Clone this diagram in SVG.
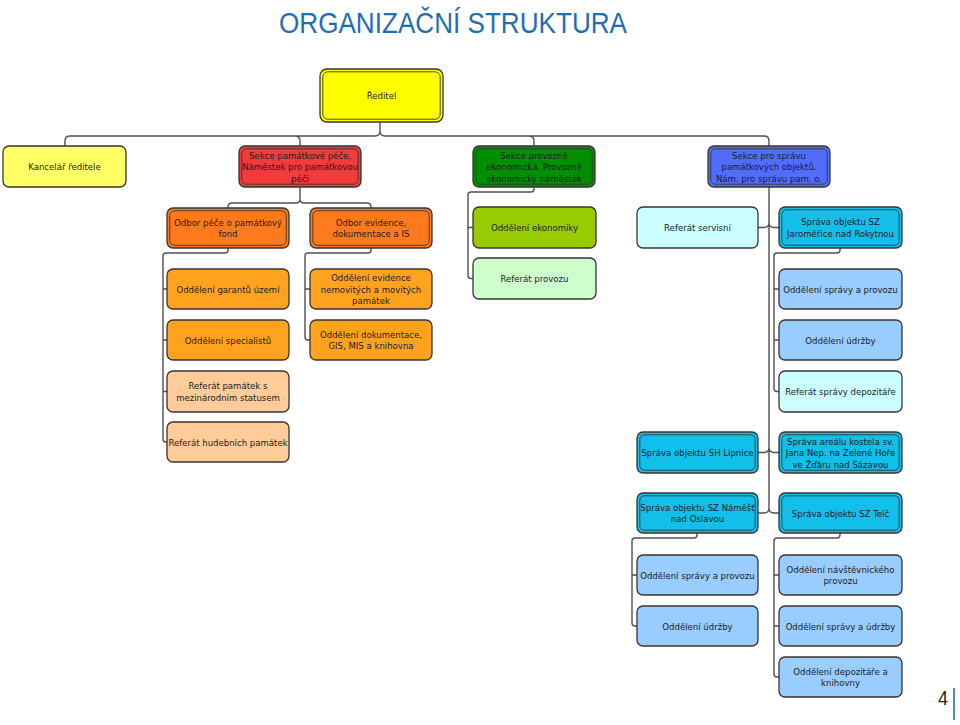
<svg xmlns="http://www.w3.org/2000/svg" width="960" height="725" viewBox="0 0 960 725">
<style>
  .t { font-family: "DejaVu Sans Condensed", "Liberation Sans", sans-serif; font-stretch: condensed; font-size: 9.5px; fill: #1c1c24; text-anchor: middle; }
  .b { stroke: #3a3330; stroke-width: 1.3; }
  .in { fill: none; stroke: #3a3330; stroke-width: 0.9; }
  .c { fill: none; stroke: #505050; stroke-width: 1.4; stroke-linecap: round; stroke-linejoin: round; }
  .yel { fill: #ffff00; } .lyel { fill: #ffff66; } .red { fill: #f23b3b; }
  .grn { fill: #008f00; } .blu { fill: #4f6eff; } .org { fill: #ff7a1c; }
  .amb { fill: #ffa31f; } .pch { fill: #ffcc99; } .lim { fill: #99cc00; }
  .lgr { fill: #ccffcc; } .pcy { fill: #ccffff; } .cya { fill: #12bfea; }
  .lbl { fill: #99ccff; }
</style>
<rect width="960" height="725" fill="#ffffff"/>
<text x="279" y="33" font-family="Liberation Sans, Arial, sans-serif" font-size="29" fill="#1f6eb4" textLength="348" lengthAdjust="spacingAndGlyphs">ORGANIZAČNÍ STRUKTURA</text>

<g id="connectors">
  <path class="c" d="M65,146 V141 Q65,136 70,136 H375 Q380,136 380,131 V122 M380,131 Q380,136 385,136 H764 Q769,136 769,141 V146 M295,136 Q300,136 300,141 V146 M529,136 Q534,136 534,141 V146"/>
  <path class="c" d="M228,208 V207 Q228,203 232,203 H296 Q300,203 300,199 V187 M300,199 Q300,203 304,203 H367 Q371,203 371,207 V208"/>
  <path class="c" d="M228,248 V250 Q228,253 225,253 H166 Q163,253 163,256 V439 Q163,442 166,442 H167 M163,289 H167 M163,340 H167 M163,391.5 H167"/>
  <path class="c" d="M371,248 V250 Q371,253 368,253 H308 Q305,253 305,256 V337 Q305,340 308,340 H310 M305,289 H310"/>
  <path class="c" d="M534,187 V189 Q534,192 531,192 H471 Q468,192 468,195 V275.5 Q468,278.5 471,278.5 H473 M468,227.5 H473"/>
  <path class="c" d="M769,187 V508 Q769,513 764,513 H758 M769,508 Q769,513 774,513 H779 M758,227.5 H764 Q769,227.5 769,222.5 M769,222.5 Q769,227.5 774,227.5 H779 M758,452.5 H764 Q769,452.5 769,447.5 M769,447.5 Q769,452.5 774,452.5 H779"/>
  <path class="c" d="M840,248 V250 Q840,253 837,253 H777 Q774,253 774,256 V388.5 Q774,391.5 777,391.5 H779 M774,289 H779 M774,340 H779"/>
  <path class="c" d="M697,533 V535 Q697,538 694,538 H635 Q632,538 632,541 V623 Q632,626 635,626 H637 M632,575 H637"/>
  <path class="c" d="M840,533 V535 Q840,538 837,538 H777 Q774,538 774,541 V674 Q774,677 777,677 H779 M774,575 H779 M774,626 H779"/>
</g>

<g id="reditel">
  <rect class="b yel" x="320" y="69" width="123" height="53" rx="7"/>
  <rect class="in" x="322.8" y="71.8" width="117.4" height="47.4" rx="5"/>
  <text class="t" x="381.5" y="99">Ředitel</text>
</g>
<g id="kancelar">
  <rect class="b lyel" x="3" y="146" width="123" height="41" rx="6"/>
  <text class="t" x="64.5" y="170">Kancelář ředitele</text>
</g>
<g id="sekce-pamatkove-pece">
  <rect class="b red" x="239" y="146" width="122" height="41" rx="6"/>
  <rect class="in" x="241.8" y="148.8" width="116.4" height="35.4" rx="4.5"/>
  <text class="t" x="300" y="158.5">Sekce památkové péče.</text>
  <text class="t" x="300" y="170">Náměstek pro památkovou</text>
  <text class="t" x="300" y="181.5">péči</text>
</g>
<g id="sekce-provozne-ekonomicka">
  <rect class="b grn" x="473" y="146" width="122" height="41" rx="6"/>
  <rect class="in" x="475.8" y="148.8" width="116.4" height="35.4" rx="4.5"/>
  <text class="t" x="534" y="158.5">Sekce provozně</text>
  <text class="t" x="534" y="170">ekonomická. Provozně</text>
  <text class="t" x="534" y="181.5">ekonomický náměstek</text>
</g>
<g id="sekce-spravy-objektu">
  <rect class="b blu" x="708" y="146" width="122" height="41" rx="6"/>
  <rect class="in" x="710.8" y="148.8" width="116.4" height="35.4" rx="4.5"/>
  <text class="t" x="769" y="158.5">Sekce pro správu</text>
  <text class="t" x="769" y="170">památkových objektů.</text>
  <text class="t" x="769" y="181.5">Nám. pro správu pam. o.</text>
</g>

<g id="odbor-pece">
  <rect class="b org" x="167" y="208" width="122" height="40" rx="6"/>
  <rect class="in" x="169.8" y="210.8" width="116.4" height="34.4" rx="4.5"/>
  <text class="t" x="228" y="225.5">Odbor péče o památkový</text>
  <text class="t" x="228" y="237">fond</text>
</g>
<g id="odbor-evidence">
  <rect class="b org" x="310" y="208" width="122" height="40" rx="6"/>
  <rect class="in" x="312.8" y="210.8" width="116.4" height="34.4" rx="4.5"/>
  <text class="t" x="371" y="225.5">Odbor evidence,</text>
  <text class="t" x="371" y="237">dokumentace a IS</text>
</g>

<g id="odd-garantu">
  <rect class="b amb" x="167" y="269" width="122" height="40" rx="6"/>
  <text class="t" x="228" y="292.5">Oddělení garantů území</text>
</g>
<g id="odd-specialistu">
  <rect class="b amb" x="167" y="320" width="122" height="40" rx="6"/>
  <text class="t" x="228" y="343.5">Oddělení specialistů</text>
</g>
<g id="ref-mezinarodni">
  <rect class="b pch" x="167" y="371" width="122" height="41" rx="6"/>
  <text class="t" x="228" y="389">Referát památek s</text>
  <text class="t" x="228" y="400.5">mezinárodním statusem</text>
</g>
<g id="ref-hudebnich">
  <rect class="b pch" x="167" y="422" width="122" height="40" rx="6"/>
  <text class="t" x="228" y="445.5">Referát hudebních památek</text>
</g>

<g id="odd-evidence">
  <rect class="b amb" x="310" y="269" width="122" height="40" rx="6"/>
  <text class="t" x="371" y="281">Oddělení evidence</text>
  <text class="t" x="371" y="292.5">nemovitých a movitých</text>
  <text class="t" x="371" y="304">památek</text>
</g>
<g id="odd-dokumentace">
  <rect class="b amb" x="310" y="320" width="122" height="40" rx="6"/>
  <text class="t" x="371" y="337.5">Oddělení dokumentace,</text>
  <text class="t" x="371" y="349">GIS, MIS a knihovna</text>
</g>

<g id="odd-ekonomiky">
  <rect class="b lim" x="473" y="207" width="123" height="41" rx="6"/>
  <text class="t" x="534.5" y="231">Oddělení ekonomiky</text>
</g>
<g id="ref-provozu">
  <rect class="b lgr" x="473" y="258" width="123" height="41" rx="6"/>
  <text class="t" x="534.5" y="282">Referát provozu</text>
</g>

<g id="ref-servisni">
  <rect class="b pcy" x="637" y="207" width="121" height="41" rx="6"/>
  <text class="t" x="697.5" y="231">Referát servisní</text>
</g>
<g id="sz-jaromerice">
  <rect class="b cya" x="779" y="207" width="123" height="41" rx="6"/>
  <rect class="in" x="781.8" y="209.8" width="117.4" height="35.4" rx="4.5"/>
  <text class="t" x="840.5" y="225">Správa objektu SZ</text>
  <text class="t" x="840.5" y="236.5">Jaroměřice nad Rokytnou</text>
</g>
<g id="odd-spravy-provozu-j">
  <rect class="b lbl" x="779" y="269" width="123" height="40" rx="6"/>
  <text class="t" x="840.5" y="292.5">Oddělení správy a provozu</text>
</g>
<g id="odd-udrzby-j">
  <rect class="b lbl" x="779" y="320" width="123" height="40" rx="6"/>
  <text class="t" x="840.5" y="343.5">Oddělení údržby</text>
</g>
<g id="ref-depozitare">
  <rect class="b pcy" x="779" y="371" width="123" height="41" rx="6"/>
  <text class="t" x="840.5" y="395">Referát správy depozitáře</text>
</g>

<g id="sh-lipnice">
  <rect class="b cya" x="637" y="432" width="121" height="41" rx="6"/>
  <rect class="in" x="639.8" y="434.8" width="115.4" height="35.4" rx="4.5"/>
  <text class="t" x="697.5" y="456">Správa objektu SH Lipnice</text>
</g>
<g id="areal-kostela">
  <rect class="b cya" x="779" y="432" width="123" height="41" rx="6"/>
  <rect class="in" x="781.8" y="434.8" width="117.4" height="35.4" rx="4.5"/>
  <text class="t" x="840.5" y="444.5">Správa areálu kostela sv.</text>
  <text class="t" x="840.5" y="456">Jana Nep. na Zelené Hoře</text>
  <text class="t" x="840.5" y="467.5">ve Žďáru nad Sázavou</text>
</g>
<g id="sz-namest">
  <rect class="b cya" x="637" y="493" width="121" height="40" rx="6"/>
  <rect class="in" x="639.8" y="495.8" width="115.4" height="34.4" rx="4.5"/>
  <text class="t" x="697.5" y="510.5">Správa objektu SZ Náměšť</text>
  <text class="t" x="697.5" y="522">nad Oslavou</text>
</g>
<g id="sz-telc">
  <rect class="b cya" x="779" y="493" width="123" height="40" rx="6"/>
  <rect class="in" x="781.8" y="495.8" width="117.4" height="34.4" rx="4.5"/>
  <text class="t" x="840.5" y="516.5">Správa objektu SZ Telč</text>
</g>

<g id="odd-spravy-provozu-n">
  <rect class="b lbl" x="637" y="555" width="121" height="40" rx="6"/>
  <text class="t" x="697.5" y="578.5">Oddělení správy a provozu</text>
</g>
<g id="odd-udrzby-n">
  <rect class="b lbl" x="637" y="606" width="121" height="40" rx="6"/>
  <text class="t" x="697.5" y="629.5">Oddělení údržby</text>
</g>
<g id="odd-navstevnickeho">
  <rect class="b lbl" x="779" y="555" width="123" height="40" rx="6"/>
  <text class="t" x="840.5" y="572.5">Oddělení návštěvnického</text>
  <text class="t" x="840.5" y="584">provozu</text>
</g>
<g id="odd-spravy-udrzby">
  <rect class="b lbl" x="779" y="606" width="123" height="40" rx="6"/>
  <text class="t" x="840.5" y="629.5">Oddělení správy a údržby</text>
</g>
<g id="odd-depozitare-knihovny">
  <rect class="b lbl" x="779" y="657" width="123" height="40" rx="6"/>
  <text class="t" x="840.5" y="674.5">Oddělení depozitáře a</text>
  <text class="t" x="840.5" y="686">knihovny</text>
</g>

<text x="943" y="705" font-family="Liberation Sans, Arial, sans-serif" font-size="20" fill="#222222" text-anchor="middle" textLength="10" lengthAdjust="spacingAndGlyphs">4</text>
<line x1="954" y1="688" x2="954" y2="720" stroke="#1f6eb4" stroke-width="1.6"/>
</svg>
